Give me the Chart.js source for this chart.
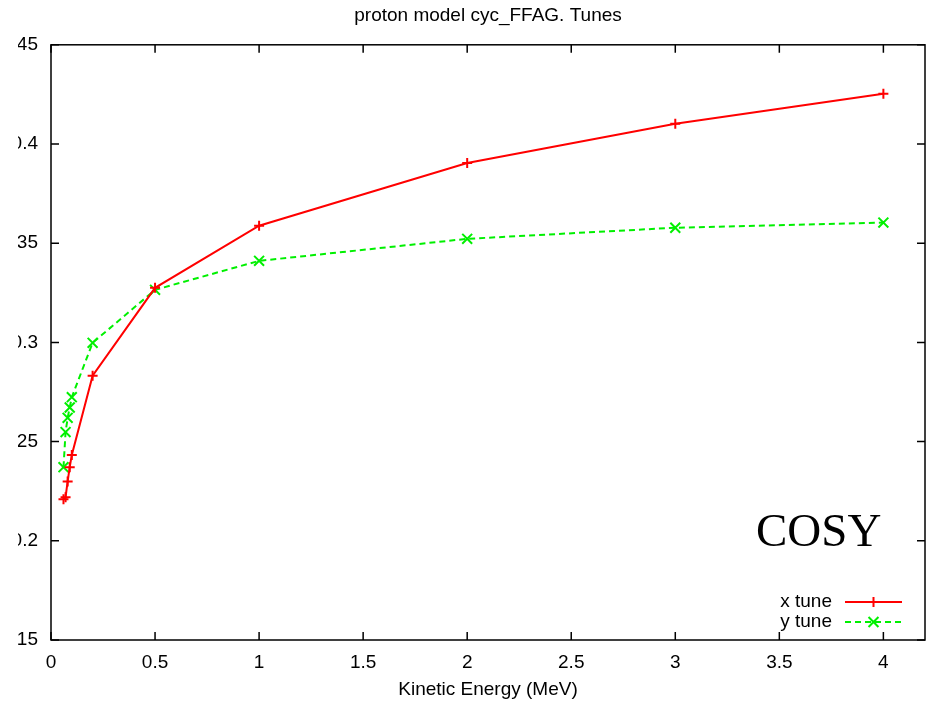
<!DOCTYPE html>
<html>
<head>
<meta charset="utf-8">
<script src="https://cdn.jsdelivr.net/npm/chart.js@4.4.1/dist/chart.umd.min.js"></script>
<style>
  html, body { margin: 0; padding: 0; background: #fff; }
  #chart { display: block; clip-path: inset(0 0 0 18px); }
</style>
</head>
<body>
<canvas id="chart" width="930" height="703"></canvas>
<script>
// kinetic energy (MeV) and tunes
const energies = [0.06, 0.07, 0.08, 0.09, 0.1, 0.2, 0.5, 1, 2, 3, 4];
const xTune = [0.2210, 0.2220, 0.2299, 0.2371, 0.2433, 0.2832, 0.3275, 0.3588, 0.3904, 0.4102, 0.4253];
const yTune = [0.2371, 0.2548, 0.2620, 0.2672, 0.2724, 0.2998, 0.3265, 0.3411, 0.3522, 0.3578, 0.3604];

const xTicks = [0, 0.5, 1, 1.5, 2, 2.5, 3, 3.5, 4];
const yTicks = [0.15, 0.2, 0.25, 0.3, 0.35, 0.4, 0.45];

const FONT = 'Liberation Sans, Arial, Helvetica, sans-serif';

const series = [
  { label: 'x tune', values: xTune, color: '#ff0000', dash: [], marker: 'cross', size: 5 },
  { label: 'y tune', values: yTune, color: '#00f000', dash: [6, 4], marker: 'crossRot', size: 7 }
];

// gnuplot style frame with ticks pointing inwards on all four sides
const framePlugin = {
  id: 'frame',
  afterDraw(chart) {
    const { ctx, chartArea: a, scales } = chart;
    const len = 8;
    ctx.save();
    ctx.strokeStyle = '#000';
    ctx.lineWidth = 1.5;
    ctx.strokeRect(a.left, a.top, a.right - a.left, a.bottom - a.top);
    ctx.beginPath();
    xTicks.forEach(v => {
      const px = scales.x.getPixelForValue(v);
      ctx.moveTo(px, a.bottom); ctx.lineTo(px, a.bottom - len);
      ctx.moveTo(px, a.top); ctx.lineTo(px, a.top + len);
    });
    yTicks.forEach(v => {
      const py = scales.y.getPixelForValue(v);
      ctx.moveTo(a.left, py); ctx.lineTo(a.left + len, py);
      ctx.moveTo(a.right, py); ctx.lineTo(a.right - len, py);
    });
    ctx.stroke();
    ctx.restore();
  }
};

// legend in the bottom right corner: text on the left, sample on the right
const keyPlugin = {
  id: 'key',
  afterDraw(chart) {
    const { ctx, chartArea: a } = chart;
    ctx.save();
    ctx.font = '19px ' + FONT;
    ctx.textAlign = 'right';
    ctx.textBaseline = 'middle';
    series.forEach((s, i) => {
      const y = a.bottom - 38 + i * 20;
      const x0 = a.right - 80, x1 = a.right - 23, xm = (x0 + x1) / 2;
      ctx.fillStyle = '#000';
      ctx.fillText(s.label, x0 - 13, y);
      ctx.strokeStyle = s.color;
      ctx.lineWidth = 2;
      ctx.setLineDash(s.dash);
      ctx.beginPath();
      ctx.moveTo(x0, y); ctx.lineTo(x1, y);
      ctx.stroke();
      ctx.setLineDash([]);
      Chart.helpers.drawPoint(ctx, { pointStyle: s.marker, radius: s.size, borderWidth: 2 }, xm, y);
    });
    ctx.font = '47px "Liberation Serif", "Times New Roman", serif';
    ctx.textAlign = 'left';
    ctx.textBaseline = 'alphabetic';
    ctx.fillStyle = '#000';
    ctx.fillText('COSY', 756, 546);
    ctx.restore();
  }
};

new Chart(document.getElementById('chart'), {
  type: 'line',
  data: {
    datasets: series.map(s => ({
      label: s.label,
      data: energies.map((e, i) => ({ x: e, y: s.values[i] })),
      borderColor: s.color,
      backgroundColor: s.color,
      borderWidth: 2,
      borderDash: s.dash,
      pointStyle: s.marker,
      pointRadius: s.size,
      pointBorderWidth: 2,
      pointBorderColor: s.color,
      tension: 0,
      fill: false
    }))
  },
  options: {
    responsive: false,
    devicePixelRatio: 1,
    animation: false,
    layout: { autoPadding: false, padding: { left: 0, right: 5, top: 0, bottom: 0 } },
    plugins: {
      legend: { display: false },
      tooltip: { enabled: false },
      title: {
        display: true,
        fullSize: false,
        text: 'proton model cyc_FFAG. Tunes',
        color: '#000',
        font: { family: FONT, size: 19, weight: 'normal' },
        padding: { top: 4, bottom: 18 }
      }
    },
    scales: {
      x: {
        type: 'linear',
        min: 0,
        max: 4.2,
        afterBuildTicks: s => { s.ticks = xTicks.map(v => ({ value: v })); },
        afterFit: s => { s.height = 63; s.paddingLeft = 0; s.paddingRight = 0; },
        grid: { display: false, drawTicks: false },
        border: { display: false },
        ticks: {
          color: '#000', padding: 11, maxRotation: 0,
          font: { family: FONT, size: 19 },
          callback: v => String(v)
        },
        title: {
          display: true,
          text: 'Kinetic Energy (MeV)',
          color: '#000',
          font: { family: FONT, size: 19 },
          padding: { top: 0, bottom: 2 }
        }
      },
      y: {
        type: 'linear',
        min: 0.15,
        max: 0.45,
        afterBuildTicks: s => { s.ticks = yTicks.map(v => ({ value: v })); },
        afterFit: s => { s.width = 51; },
        grid: { display: false, drawTicks: false },
        border: { display: false },
        ticks: {
          color: '#000', padding: 13,
          font: { family: FONT, size: 19 },
          callback: v => String(v)
        }
      }
    }
  },
  plugins: [framePlugin, keyPlugin]
});
</script>
</body>
</html>
